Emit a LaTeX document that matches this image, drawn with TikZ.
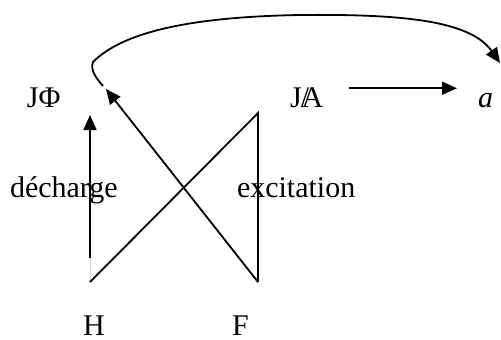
\documentclass[tikz,border=0pt]{standalone}
\usepackage{fontspec}
\setmainfont{Liberation Serif}
\usetikzlibrary{arrows.meta}

\begin{document}
\begin{tikzpicture}[
    x=1pt, y=-1pt,
    font=\fontsize{30}{36}\selectfont,
    lbl/.style={inner sep=0pt, outer sep=0pt, anchor=base west},
    arrow/.style={-{Triangle[length=15pt, width=13pt]}, line width=1.8pt},
    link/.style={line width=1.8pt}
  ]
    \useasboundingbox (0,0) rectangle (501,340);

    \node[lbl] (jphi) at (27,107) {JΦ};
    \node[lbl] (ja) at (290,107) {J\rlap{\kern-0.03em/}A};
    \node[lbl] (avar) at (478,107) {\itshape a};
    \node[lbl] (dech) at (10,197) {décharge};
    \node[lbl] (exc) at (237,197) {excitation};
    \node[lbl] (h) at (83,335) {H};
    \node[lbl] (f) at (232,335) {F};

    % corners of the cross
    \coordinate (hc) at (90,282);
    \coordinate (hv) at (90,258);
    \coordinate (ftop) at (258,113);
    \coordinate (fc) at (258,282);
    \coordinate (phiup) at (90,115);
    \coordinate (phidiag) at (106,89);
    \coordinate (loop0) at (103,86);
    \coordinate (loop1) at (93,62);
    \coordinate (loop2) at (300,15);
    \coordinate (aup) at (500,63);

    % transitions
    \draw[black!15, line width=0.8pt] (hc) -- (hv);
    \draw[arrow] (hv) -- (phiup);
    \draw[link] (hc) -- (ftop) -- (fc);
    \draw[arrow] (fc) -- (phidiag);
    \draw[arrow] ([shift={(26,-9)}]ja.east) -- ([shift={(-21,-9)}]ja.east -| avar.west);
    \draw[arrow] (loop0) .. controls (96,78) and (90,70) .. (loop1)
      .. controls (120,35) and (180,17) .. (loop2)
      .. controls (400,14) and (470,20) .. (aup);

\end{tikzpicture}
\end{document}
